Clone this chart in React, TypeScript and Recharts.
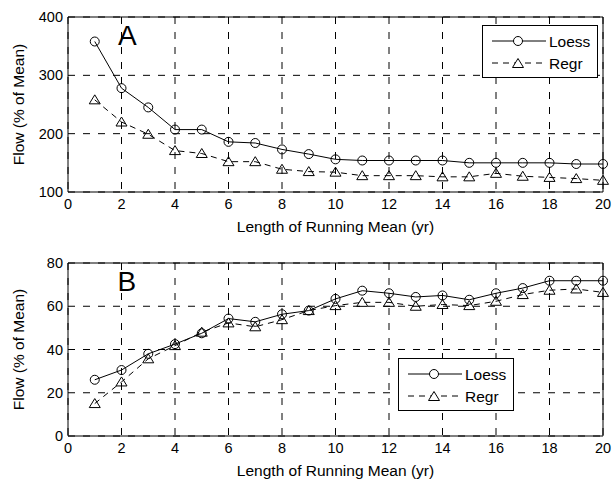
import {
  LineChart,
  Line,
  XAxis,
  YAxis,
  CartesianGrid,
  ReferenceLine,
  ReferenceDot,
  Legend,
} from "recharts";

const runLength = [1, 2, 3, 4, 5, 6, 7, 8, 9, 10, 11, 12, 13, 14, 15, 16, 17, 18, 19, 20];

const loessA = [358, 278, 245, 207, 207, 186, 184, 173, 165, 156, 154, 154, 154, 154, 150, 150, 150, 150, 148, 148];
const regrA = [258, 220, 199, 171, 166, 152, 152, 139, 135, 134, 128, 128, 128, 126, 126, 132, 127, 125, 123, 120];

const loessB = [26, 30.5, 38, 42.5, 47.5, 54.3, 52.8, 56.3, 58, 63.4, 67.2, 66, 64.3, 65, 63, 66, 68.4, 71.8, 71.8, 71.8];
const regrB = [15, 25, 35.7, 41.8, 48, 52.3, 50.5, 53.8, 58, 60.3, 61.8, 61.8, 60, 60.8, 60.3, 62.3, 65.4, 67.4, 68, 66.4];

const xTicks = [0, 2, 4, 6, 8, 10, 12, 14, 16, 18, 20];
const yTicksA = [100, 200, 300, 400];
const yTicksB = [0, 20, 40, 60, 80];

const seriesNames = ["Loess", "Regr"];
const xLabel = "Length of Running Mean (yr)";
const yLabel = "Flow (% of Mean)";

const FONT = '"Liberation Sans", Arial, sans-serif';
const GRID_DASH = "7 8";
const REGR_DASH = "6 5";

const dataA = runLength.map((x, i) => ({ x, loess: loessA[i], regr: regrA[i] }));
const dataB = runLength.map((x, i) => ({ x, loess: loessB[i], regr: regrB[i] }));

function triPath(cx: number, cy: number) {
  return `M${cx},${cy - 5} L${cx + 5.5},${cy + 4} L${cx - 5.5},${cy + 4} Z`;
}

const TriangleDot = (props: any) => {
  const { cx, cy, index } = props;
  if (cx == null || cy == null) return <g key={`tri-${index}`} />;
  return <path key={`tri-${index}`} d={triPath(cx, cy)} fill="none" stroke="#000" strokeWidth={1} />;
};

// legend box drawn like the matlab one: line sample, marker, name
const LegendBox = () => (
  <div
    style={{
      width: 116,
      height: 53,
      boxSizing: "border-box",
      border: "1px solid #000",
      background: "#fff",
    }}
  >
    <svg width={114} height={51} style={{ display: "block" }}>
      <line x1={9} y1={15} x2={63} y2={15} stroke="#000" strokeWidth={1} />
      <circle cx={35} cy={15} r={4.5} fill="#fff" stroke="#000" strokeWidth={1} />
      <text x={66} y={15} dy="0.355em" fontSize={15.5} fontFamily={FONT} fill="#000">
        {seriesNames[0]}
      </text>
      <line x1={9} y1={37} x2={63} y2={37} stroke="#000" strokeWidth={1} strokeDasharray={REGR_DASH} />
      <path d={triPath(35, 37.5)} fill="#fff" stroke="#000" strokeWidth={1} />
      <text x={66} y={37} dy="0.355em" fontSize={15.5} fontFamily={FONT} fill="#000">
        {seriesNames[1]}
      </text>
    </svg>
  </div>
);

interface PanelProps {
  data: any[];
  height: number;
  topMargin: number;
  yDomain: [number, number];
  yTicks: number[];
  tag: string;
  tagPos: [number, number];
  legendPos: { left: number; top: number };
}

function Panel({ data, height, topMargin, yDomain, yTicks, tag, tagPos, legendPos }: PanelProps) {
  return (
    <LineChart
      width={613}
      height={height}
      data={data}
      margin={{ top: topMargin, right: 10, bottom: 10, left: 8 }}
      style={{ fontFamily: FONT }}
    >
      <CartesianGrid stroke="#000" strokeDasharray={GRID_DASH} strokeWidth={1} />
      <XAxis
        dataKey="x"
        type="number"
        domain={[0, 20]}
        ticks={xTicks}
        interval={0}
        height={38}
        tickLine={false}
        tickSize={4}
        tickMargin={3}
        axisLine={{ stroke: "#000", strokeWidth: 1 }}
        tick={{ fill: "#000", fontSize: 14.5, fontFamily: FONT }}
        label={{
          value: xLabel,
          position: "insideBottom",
          offset: -2,
          fill: "#000",
          fontSize: 15.5,
          fontFamily: FONT,
        }}
      />
      <YAxis
        type="number"
        domain={yDomain}
        ticks={yTicks}
        interval={0}
        width={60}
        tickLine={false}
        tickSize={3}
        tickMargin={2}
        axisLine={{ stroke: "#000", strokeWidth: 1 }}
        tick={{ fill: "#000", fontSize: 14.5, fontFamily: FONT }}
        label={{
          value: yLabel,
          angle: -90,
          position: "insideLeft",
          offset: 10,
          fill: "#000",
          fontSize: 15.5,
          fontFamily: FONT,
          style: { textAnchor: "middle" },
        }}
      />
      <ReferenceLine y={yDomain[1]} stroke="#000" strokeWidth={1} />
      <ReferenceLine x={20} stroke="#000" strokeWidth={1} />
      <ReferenceDot
        x={tagPos[0]}
        y={tagPos[1]}
        r={0}
        fill="none"
        stroke="none"
        label={{ value: tag, position: "center", fontSize: 28, fill: "#000", fontFamily: FONT }}
      />
      <Line
        type="linear"
        dataKey="loess"
        name={seriesNames[0]}
        stroke="#000"
        strokeWidth={1}
        dot={{ r: 4.5, fill: "none", stroke: "#000", strokeWidth: 1 }}
        isAnimationActive={false}
      />
      <Line
        type="linear"
        dataKey="regr"
        name={seriesNames[1]}
        stroke="#000"
        strokeWidth={1}
        strokeDasharray={REGR_DASH}
        dot={TriangleDot}
        isAnimationActive={false}
      />
      <Legend
        layout="vertical"
        align="center"
        verticalAlign="middle"
        content={() => <LegendBox />}
        wrapperStyle={{ left: legendPos.left, top: legendPos.top, width: 116, height: 53 }}
      />
    </LineChart>
  );
}

export default function App() {
  return (
    <div
      style={{
        position: "absolute",
        left: 0,
        top: 0,
        width: 613,
        height: 484,
        background: "#fff",
      }}
    >
      <Panel
        data={dataA}
        height={240}
        topMargin={17}
        yDomain={[100, 400]}
        yTicks={yTicksA}
        tag="A"
        tagPos={[2.22, 369]}
        legendPos={{ left: 482, top: 25 }}
      />
      <Panel
        data={dataB}
        height={244}
        topMargin={23}
        yDomain={[0, 80]}
        yTicks={yTicksB}
        tag="B"
        tagPos={[2.2, 71.8]}
        legendPos={{ left: 398, top: 118 }}
      />
    </div>
  );
}
